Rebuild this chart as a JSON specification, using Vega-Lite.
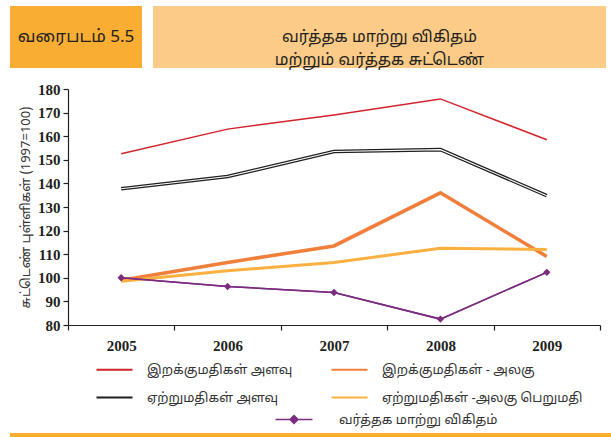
{
  "$schema": "https://vega.github.io/schema/vega-lite/v6.json",
  "padding": {"left": 10, "top": 6, "right": 0, "bottom": 0},
  "background": "white",
  "config": {"view": {"stroke": null}},
  "spacing": 14,
  "vconcat": [
    {
      "spacing": 11,
      "hconcat": [
        {
          "width": 132, "height": 62,
          "view": {"fill": "#F9AE33", "stroke": null},
          "data": {"values": [{"t": "வரைபடம் 5.5"}]},
          "mark": {"type": "text", "fontSize": 17, "font": "Noto Sans Tamil, Lohit Tamil, sans-serif", "color": "#231F20"},
          "encoding": {"text": {"field": "t"}}
        },
        {
          "width": 453, "height": 62,
          "view": {"fill": "#FBCB87", "stroke": null},
          "data": {"values": [{"t": "வர்த்தக மாற்று விகிதம்\nமற்றும் வர்த்தக சுட்டெண்"}]},
          "mark": {"type": "text", "fontSize": 16, "lineBreak": "\n", "lineHeight": 23, "font": "Noto Sans Tamil, Lohit Tamil, sans-serif", "color": "#231F20"},
          "encoding": {"text": {"field": "t"}}
        }
      ]
    },
    {
      "spacing": 3,
      "vconcat": [
        {
          "bounds": "flush",
          "spacing": 0,
          "resolve": {"scale": {"color": "independent", "opacity": "independent"}, "legend": {"color": "independent", "opacity": "independent"}},
          "hconcat": [
            {
              "width": 58, "height": 236,
              "data": {"values": [{"a": 1}]},
              "mark": {"type": "text", "opacity": 0},
              "encoding": {"text": {"value": ""}}
            },
            {
              "width": 532, "height": 236,
              "data": {"values": [
                {"year": "2005", "series": "இறக்குமதிகள் அளவு", "value": 152.6},
                {"year": "2006", "series": "இறக்குமதிகள் அளவு", "value": 163},
                {"year": "2007", "series": "இறக்குமதிகள் அளவு", "value": 169},
                {"year": "2008", "series": "இறக்குமதிகள் அளவு", "value": 175.8},
                {"year": "2009", "series": "இறக்குமதிகள் அளவு", "value": 158.5},
                {"year": "2005", "series": "ஏற்றுமதிகள் அளவு", "value": 137.7},
                {"year": "2006", "series": "ஏற்றுமதிகள் அளவு", "value": 142.9},
                {"year": "2007", "series": "ஏற்றுமதிகள் அளவு", "value": 153.5},
                {"year": "2008", "series": "ஏற்றுமதிகள் அளவு", "value": 154.3},
                {"year": "2009", "series": "ஏற்றுமதிகள் அளவு", "value": 134.8},
                {"year": "2005", "series": "இறக்குமதிகள் - அலகு", "value": 99},
                {"year": "2006", "series": "இறக்குமதிகள் - அலகு", "value": 106.5},
                {"year": "2007", "series": "இறக்குமதிகள் - அலகு", "value": 113.5},
                {"year": "2008", "series": "இறக்குமதிகள் - அலகு", "value": 136},
                {"year": "2009", "series": "இறக்குமதிகள் - அலகு", "value": 109},
                {"year": "2005", "series": "ஏற்றுமதிகள் -அலகு பெறுமதி", "value": 98.5},
                {"year": "2006", "series": "ஏற்றுமதிகள் -அலகு பெறுமதி", "value": 103},
                {"year": "2007", "series": "ஏற்றுமதிகள் -அலகு பெறுமதி", "value": 106.5},
                {"year": "2008", "series": "ஏற்றுமதிகள் -அலகு பெறுமதி", "value": 112.5},
                {"year": "2009", "series": "ஏற்றுமதிகள் -அலகு பெறுமதி", "value": 112},
                {"year": "2005", "series": "வர்த்தக மாற்று விகிதம்", "value": 100},
                {"year": "2006", "series": "வர்த்தக மாற்று விகிதம்", "value": 96.3},
                {"year": "2007", "series": "வர்த்தக மாற்று விகிதம்", "value": 93.8},
                {"year": "2008", "series": "வர்த்தக மாற்று விகிதம்", "value": 82.5},
                {"year": "2009", "series": "வர்த்தக மாற்று விகிதம்", "value": 102.3}
              ]},
              "encoding": {
                "x": {
                  "field": "year", "type": "ordinal",
                  "scale": {"type": "band", "paddingInner": 0, "paddingOuter": 0},
                  "axis": {"title": null, "labelAngle": 0, "tickBand": "extent", "domainColor": "#231F20", "tickColor": "#231F20", "tickSize": 5, "domainWidth": 1.2, "tickWidth": 1.2, "labelFont": "Liberation Serif", "labelFontWeight": "bold", "labelFontSize": 15, "labelColor": "#231F20", "labelPadding": 8}
                },
                "y": {
                  "field": "value", "type": "quantitative",
                  "scale": {"domain": [80, 180], "nice": false, "zero": false},
                  "axis": {"title": "சுட்டெண் புள்ளிகள்  (1997=100)", "values": [80, 90, 100, 110, 120, 130, 140, 150, 160, 170, 180], "grid": false, "domainColor": "#231F20", "tickColor": "#231F20", "tickSize": 5, "domainWidth": 1.2, "tickWidth": 1.2, "labelFont": "Liberation Serif", "labelFontWeight": "bold", "labelFontSize": 15, "labelColor": "#231F20", "labelPadding": 3, "titleFont": "Noto Sans Tamil, Lohit Tamil, Liberation Serif", "titleFontWeight": "normal", "titleFontSize": 13, "titleColor": "#333333", "titlePadding": 5}
                }
              },
              "layer": [
                {
                  "mark": {"type": "line"},
                  "encoding": {
                    "color": {
                      "field": "series", "type": "nominal",
                      "scale": {
                        "domain": ["இறக்குமதிகள் அளவு", "இறக்குமதிகள் - அலகு", "ஏற்றுமதிகள் அளவு", "ஏற்றுமதிகள் -அலகு பெறுமதி", "வர்த்தக மாற்று விகிதம்"],
                        "range": ["#D2232A", "#F07F3C", "#1E1E1E", "#FBB040", "#7B2C80"]
                      },
                      "legend": {
                        "values": ["இறக்குமதிகள் அளவு", "இறக்குமதிகள் - அலகு", "ஏற்றுமதிகள் அளவு", "ஏற்றுமதிகள் -அலகு பெறுமதி"],
                        "title": null, "orient": "none", "legendX": 27, "legendY": 261, "columns": 2, "direction": "horizontal",
                        "symbolType": "stroke", "symbolSize": 1296, "symbolStrokeWidth": 2.2, "labelOffset": 13,
                        "labelFont": "Noto Sans Tamil, Lohit Tamil, sans-serif", "labelFontSize": 13, "labelColor": "#333333",
                        "columnPadding": 34, "rowPadding": 1, "padding": 0, "labelLimit": 300
                      }
                    },
                    "strokeWidth": {
                      "condition": [
                        {"test": "datum.series === 'இறக்குமதிகள் - அலகு'", "value": 3.5},
                        {"test": "datum.series === 'ஏற்றுமதிகள் அளவு'", "value": 3.6},
                        {"test": "datum.series === 'ஏற்றுமதிகள் -அலகு பெறுமதி'", "value": 3}
                      ],
                      "value": 1.5
                    }
                  }
                },
                {
                  "transform": [{"filter": "datum.series === 'ஏற்றுமதிகள் அளவு'"}],
                  "mark": {"type": "line", "color": "white", "strokeWidth": 1.1}
                },
                {
                  "transform": [{"filter": "datum.series === 'வர்த்தக மாற்று விகிதம்'"}],
                  "mark": {"type": "line", "color": "#7B2C80", "strokeWidth": 1.5},
                  "encoding": {
                    "opacity": {
                      "field": "series", "type": "nominal",
                      "scale": {"domain": ["வர்த்தக மாற்று விகிதம்"], "range": [1, 1]},
                      "legend": {
                        "title": null, "orient": "none", "legendX": 219.5, "legendY": 324, "padding": 0,
                        "symbolType": "M-3.7,0H3.7M0,-0.8L0.8,0L0,0.8L-0.8,0Z",
                        "symbolSize": 100, "symbolStrokeWidth": 1.5, "labelOffset": 38.5, "labelLimit": 300,
                        "symbolFillColor": "#7B2C80", "symbolStrokeColor": "#7B2C80",
                        "labelFont": "Noto Sans Tamil, Lohit Tamil, sans-serif", "labelFontSize": 13, "labelColor": "#333333",
                        "encode": {"symbols": {"update": {"stroke": {"value": "#7B2C80"}, "strokeWidth": {"value": 1.5}, "fill": {"value": "#7B2C80"}}}}
                      }
                    }
                  }
                },
                {
                  "transform": [{"filter": "datum.series === 'வர்த்தக மாற்று விகிதம்'"}],
                  "mark": {"type": "point", "shape": "diamond", "filled": true, "size": 55, "opacity": 1, "color": "#7B2C80"}
                }
              ]
            }
          ]
        },
        {
          "width": 601, "height": 6,
          "view": {"fill": "#F9AE33", "stroke": null},
          "data": {"values": [{"a": 1}]},
          "mark": {"type": "text", "opacity": 0},
          "encoding": {"text": {"value": ""}}
        }
      ]
    }
  ]
}
